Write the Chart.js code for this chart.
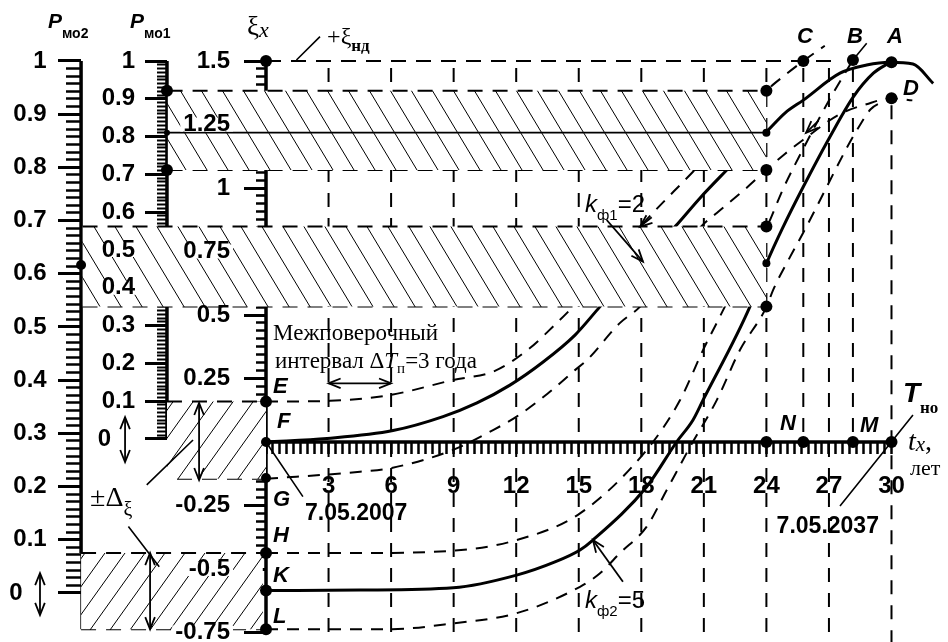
<!DOCTYPE html>
<html lang="ru">
<head>
<meta charset="UTF-8">
<title>Межповерочный интервал</title>
<script src="https://cdn.jsdelivr.net/npm/chart.js"></script>
<style>
  html, body { margin: 0; padding: 0; background: #fff; }
  canvas { display: block; }
</style>
</head>
<body>
<canvas id="chart" width="948" height="642"></canvas>
<script>
// ---- values: x = t_x (years), y = xi ----
const yearLabelValues = [3, 6, 9, 12, 15, 18, 21, 24, 27, 30];
const yearLabels = ['3', '6', '9', '12', '15', '18', '21', '24', '27', '30'];
const gridYears = [3, 6, 9, 12, 15, 18, 21, 24, 27];
const markerYears = [25.77, 28.15];          // C-N and B-M verticals

const pmoValues = [0, 0.1, 0.2, 0.3, 0.4, 0.5, 0.6, 0.7, 0.8, 0.9, 1];
const pmo2Labels = ['0\u2002\u2002', '0.1', '0.2', '0.3', '0.4', '0.5', '0.6', '0.7', '0.8', '0.9', '1'];
const pmo1Labels = ['0\u2002\u2002', '0.1', '0.2', '0.3', '0.4', '0.5', '0.6', '0.7', '0.8', '0.9', '1'];
const xiValues = [-0.75, -0.5, -0.25, 0.25, 0.5, 0.75, 1, 1.25, 1.5];
const xiLabels = ['-0.75', '-0.5', '-0.25', '0.25', '0.5', '0.75', '1', '1.25', '1.5'];

// k_f1 = 2 : solid curve and its +/- dashed bounds
const c1Years = [0, 2.93, 6.09, 8.49, 10.12, 11.70, 13.29, 14.82, 16.02, 17.84, 19.62, 20.82, 22.10, 23.12, 24.01, 24.89, 25.77, 27.53, 28.81, 29.93, 31.03, 32.0];
const c1Xi = [0, 0.014, 0.045, 0.100, 0.154, 0.224, 0.315, 0.421, 0.533, 0.699, 0.848, 0.961, 1.071, 1.157, 1.222, 1.295, 1.346, 1.452, 1.484, 1.495, 1.488, 1.412];
const c1UpYears = [0, 3.07, 5.95, 8.97, 10.98, 12.66, 13.77, 14.72, 16.3, 17.94, 20.48, 22.3, 24.0, 24.9, 25.77, 26.8];
const c1UpXi = [0.159, 0.162, 0.185, 0.244, 0.280, 0.370, 0.455, 0.533, 0.69, 0.848, 1.064, 1.22, 1.383, 1.445, 1.50, 1.56];
const c1LowYears = [0, 4.51, 6.03, 8.97, 10.89, 12.02, 13.5, 14.82, 15.40, 16.98, 17.94, 19.4, 20.86, 21.62, 22.9, 24.0, 24.9, 25.77, 27.5, 28.8, 30.0, 31.0];
const c1LowXi = [-0.145, -0.117, -0.102, -0.031, 0.047, 0.10, 0.19, 0.283, 0.323, 0.469, 0.533, 0.69, 0.848, 0.902, 0.99, 1.071, 1.135, 1.19, 1.29, 1.33, 1.353, 1.345];

// k_f2 = 5
const c2Years = [0, 4.51, 8.98, 12.02, 13.86, 15.06, 15.68, 18.26, 19.70, 20.48, 20.96, 23.21, 24.01, 24.81, 25.77, 27.05, 28.17, 29.13, 29.93];
const c2Xi = [-0.585, -0.583, -0.574, -0.524, -0.472, -0.425, -0.386, -0.176, 0.001, 0.087, 0.165, 0.533, 0.704, 0.848, 1.005, 1.202, 1.359, 1.452, 1.495];
const c2UpYears = [0, 4.51, 8.98, 12.02, 15.06, 18.26, 19.86, 20.96, 21.62, 22.01, 24.01, 24.81, 25.77, 27.05, 28.15];
const c2UpXi = [-0.437, -0.437, -0.428, -0.386, -0.281, -0.031, 0.165, 0.362, 0.469, 0.533, 0.844, 0.998, 1.155, 1.352, 1.504];
const c2LowYears = [0, 5.95, 8.98, 12.02, 15.06, 16.02, 16.98, 18.26, 19.22, 20.34, 21.62, 22.73, 24.01, 24.32, 25.13, 25.76, 26.33, 27.85, 28.49, 29.0, 29.6, 30.0];
const c2LowXi = [-0.737, -0.737, -0.714, -0.674, -0.570, -0.517, -0.437, -0.333, -0.189, -0.019, 0.165, 0.362, 0.533, 0.598, 0.728, 0.823, 0.913, 1.157, 1.248, 1.31, 1.34, 1.353];

// tolerance bands [bottom, centre, top] and their year span
const upperBandXi = [1.071, 1.218, 1.383];
const upperBandYears = [-4.72, 24];
const lowerBandXi = [0.533, 0.697, 0.848];
const lowerBandYears = [-8.8, 24];
const startBand2Xi = [-0.737, -0.585, -0.437];   // H-K-L
const startBand2Years = [-8.87, -0.15];
const startBand1Xi = [-0.145, 0.159];            // G-E
const startBand1Years = [-4.75, -4.27, 0];

// marked points
const dotYears = [0, -4.75, -4.75, -4.75, -8.87, 0, 0, 0, 0, 0, 0, 24, 24, 24, 24, 24, 24, 24, 25.77, 28.15, 30, 30, 25.77, 28.15, 30];
const dotXi = [1.5, 1.383, 1.218, 1.071, 0.697, 0.159, 0, -0.142, -0.437, -0.585, -0.737, 1.383, 1.218, 1.071, 0.848, 0.704, 0.533, 0, 1.5, 1.504, 1.495, 1.353, 0, 0, 0];
const dotRadius = [6, 6, 3, 6, 5, 6, 5, 5, 6, 6, 6, 6, 4, 6, 6, 4, 6, 6, 6, 6, 6, 6, 6, 6, 6];

// leader lines [x1, y1, x2, y2]
const leaders = [
  [1.46, 1.504, 2.59, 1.596],
  [-6.60, -0.333, -5.12, -0.491],
  [0.03, -0.004, 1.77, -0.215],
  [27.53, -0.252, 31.03, 0.106],
  [28.15, 1.504, 28.81, 1.570],
  [-5.72, -0.169, -3.50, 0.008]
];
// arrows [x1, y1, x2, y2, bothEnds]
const arrows = [
  [3, 0.231, 6, 0.231, 1],
  [16.34, 0.874, 18.08, 0.710, 0],
  [17.12, -0.550, 15.68, -0.386, 0],
  [-5.56, -0.437, -5.56, -0.737, 1],
  [-3.21, 0.154, -3.21, -0.150, 1],
  [-6.76, 0.098, -6.76, -0.079, 1],
  [-10.84, -0.516, -10.84, -0.681, 1],
  [18.5, 0.885, 17.94, 0.848, 0],
  [26.5, 1.265, 25.9, 1.217, 0]
];

// ---- layout constants ----
const X_MIN = -12.758, X_MAX = 32.71;
const XI_MIN = -0.7874, XI_MAX = 1.7402;
const P1_MIN = -0.53704, P1_MAX = 1.16138;
const P2_MIN = -0.09211, P2_MAX = 1.11466;
const P2_AXIS = -8.87, P1_AXIS = -4.75, XI_AXIS = 0;
// right edge of each column of tick labels (in years along x)
const P2_LABEL_X = -10.518, P1_LABEL_X = -6.283, XI_LABEL_X = -1.727;
const SANS = '"Liberation Sans", Arial, sans-serif';
const SERIF = '"Liberation Serif", "Times New Roman", serif';

const texts = [
  {x: -10.46, y: 1.630, parts: [['P', 'italic bold 21px ' + SANS], ['мо2', 'bold 14px ' + SANS, 10]]},
  {x: -6.52, y: 1.630, parts: [['P', 'italic bold 21px ' + SANS], ['мо1', 'bold 14px ' + SANS, 10]]},
  {x: -0.91, y: 1.602, parts: [['ξ', '27px ' + SERIF], ['x', 'italic 22px ' + SERIF, 2]]},
  {x: 2.93, y: 1.567, parts: [['+ξ', '24px ' + SERIF], ['нд', 'bold 17px ' + SERIF, 7]]},
  {x: 0.34, y: 0.402, parts: [['Межповерочный', '23px ' + SERIF]]},
  {x: 0.43, y: 0.291, parts: [['интервал Δ', '23px ' + SERIF], ['T', 'italic 23px ' + SERIF], ['п', '15px ' + SERIF, 5], ['=3 года', '23px ' + SERIF]]},
  {x: 0.34, y: 0.193, parts: [['E', 'italic bold 22px ' + SANS]]},
  {x: 0.53, y: 0.055, parts: [['F', 'italic bold 22px ' + SANS]]},
  {x: 0.34, y: -0.252, parts: [['G', 'italic bold 22px ' + SANS]]},
  {x: 0.34, y: -0.394, parts: [['H', 'italic bold 22px ' + SANS]]},
  {x: 0.34, y: -0.551, parts: [['K', 'italic bold 22px ' + SANS]]},
  {x: 0.34, y: -0.713, parts: [['L', 'italic bold 22px ' + SANS]]},
  {x: 1.87, y: -0.307, parts: [['7.05.2007', 'bold 23px ' + SANS]]},
  {x: 24.49, y: -0.358, parts: [['7.05.2037', 'bold 23px ' + SANS]]},
  {x: 24.65, y: 0.047, parts: [['N', 'italic bold 22px ' + SANS]]},
  {x: 28.49, y: 0.039, parts: [['M', 'italic bold 22px ' + SANS]]},
  {x: 25.47, y: 1.571, parts: [['C', 'italic bold 22px ' + SANS]]},
  {x: 27.87, y: 1.571, parts: [['B', 'italic bold 22px ' + SANS]]},
  {x: 29.78, y: 1.571, parts: [['A', 'italic bold 22px ' + SANS]]},
  {x: 30.55, y: 1.366, parts: [['D', 'italic bold 22px ' + SANS]]},
  {x: 30.55, y: 0.157, parts: [['T', 'italic bold 28px ' + SANS], ['но', 'bold 17px ' + SERIF, 11]]},
  {x: 30.79, y: -0.031, parts: [['t', 'italic 28px ' + SERIF], ['x', 'italic 21px ' + SERIF, 1], [',', '28px ' + SERIF]]},
  {x: 30.89, y: -0.130, parts: [['лет', '22px ' + SERIF]]},
  {x: 15.30, y: 0.906, parts: [['k', 'italic 24px ' + SANS], ['ф1', '15px ' + SANS, 8], ['=2', '24px ' + SANS]]},
  {x: 15.30, y: -0.654, parts: [['k', 'italic 24px ' + SANS], ['ф2', '15px ' + SANS, 8], ['=5', '24px ' + SANS]]},
  {x: -8.44, y: -0.252, parts: [['±Δ', '28px ' + SERIF], ['ξ', '20px ' + SERIF, 10]]}
];

function range(a, b, step) {
  const out = [];
  const n = Math.round((b - a) / step);
  for (let i = 0; i <= n; i++) out.push(+(a + i * step).toFixed(6));
  return out;
}
function pts(xs, ys) { return xs.map((x, i) => ({x: x, y: ys[i]})); }
function segs(list) {
  const out = [];
  list.forEach(s => { out.push({x: s[0], y: s[1]}, {x: s[2], y: s[3]}, {x: s[2], y: null}); });
  return out;
}

function makeHatch(w, h, back) {
  const c = document.createElement('canvas');
  c.width = w; c.height = h;
  const g = c.getContext('2d');
  g.fillStyle = '#fff';
  g.fillRect(0, 0, w, h);
  g.strokeStyle = '#000';
  g.lineWidth = 1;
  [-w, 0, w].forEach(dx => {
    g.beginPath();
    if (back) { g.moveTo(dx, 0); g.lineTo(dx + w, h); }
    else { g.moveTo(dx, h); g.lineTo(dx + w, 0); }
    g.stroke();
  });
  return g.createPattern(c, 'repeat');
}
const hatchBack = makeHatch(21, 35, true);
const hatchFwd = makeHatch(20, 28, false);

function line(data, opts) {
  return Object.assign({
    type: 'line', data: data, borderColor: '#000', borderWidth: 2, pointRadius: 0,
    fill: false, tension: 0, spanGaps: false, xAxisID: 'x', yAxisID: 'y', borderCapStyle: 'butt'
  }, opts);
}

function tickAxis(posX, min, max, values, len, width) {
  return {
    type: 'linear', axis: 'y', min: min, max: max, bounds: 'data',
    position: {x: posX},
    afterBuildTicks: s => { s.ticks = values.map(v => ({value: v})); },
    grid: {drawOnChartArea: false, drawTicks: true, tickLength: len, tickWidth: width, tickColor: '#000'},
    border: {display: false},
    ticks: {display: false}
  };
}
// labels only; the axis sits at the right edge of the label column
function labelAxis(posX, min, max, values, labels) {
  return {
    type: 'linear', axis: 'y', min: min, max: max, bounds: 'data',
    position: {x: posX},
    afterBuildTicks: s => {
      s.ticks = [{value: min}].concat(values.map(v => ({value: v})), [{value: max}]);
    },
    grid: {display: false, drawTicks: false},
    border: {display: false},
    ticks: {
      z: 1, padding: 0, autoSkip: false, color: '#000',
      font: {family: SANS, size: 24, weight: 'bold', lineHeight: 1},
      callback: (v, i) => (i === 0 || i > values.length) ? [] : labels[i - 1],
      showLabelBackdrop: c => !!(c.tick && typeof c.tick.label === 'string'),
      backdropColor: '#fff',
      backdropPadding: {top: -5, bottom: -5, left: 3, right: 3}
    }
  };
}

const verticals = gridYears.map(t => [t, 1.5, t, XI_MIN])
  .concat(markerYears.map(t => [t, 1.5, t, 0]))
  .concat([[30, 1.353, 30, XI_MIN]]);

const datasets = [
  line(segs(verticals), {borderDash: [14, 11], borderDashOffset: 18, order: 20}),
  line(pts(c1Years, c1Xi), {borderWidth: 3, cubicInterpolationMode: 'monotone', order: 15}),
  line(pts(c1UpYears, c1UpXi), {borderDash: [12, 9], cubicInterpolationMode: 'monotone', order: 15}),
  line(pts(c1LowYears, c1LowXi), {borderDash: [12, 9], cubicInterpolationMode: 'monotone', order: 15}),
  line(pts(c2Years, c2Xi), {borderWidth: 3, cubicInterpolationMode: 'monotone', order: 15}),
  line(pts(c2UpYears, c2UpXi), {borderDash: [12, 9], cubicInterpolationMode: 'monotone', order: 15}),
  line(pts(c2LowYears, c2LowXi), {borderDash: [12, 9], cubicInterpolationMode: 'monotone', order: 15}),
  // axis lines
  line([{x: P2_AXIS, y: 1}, {x: P2_AXIS, y: 0.075}], {yAxisID: 'p2Major', borderWidth: 3.5, order: 12}),
  line([{x: P1_AXIS, y: 1}, {x: P1_AXIS, y: 0}], {yAxisID: 'p1Major', borderWidth: 3.5, order: 12}),
  line([{x: XI_AXIS, y: 1.5}, {x: XI_AXIS, y: -0.737}], {borderWidth: 3.5, order: 12}),
  line([{x: 0, y: 0}, {x: 30, y: 0}], {borderWidth: 3.5, order: 12}),
  // tolerance bands
  line([{x: upperBandYears[0], y: upperBandXi[2]}, {x: upperBandYears[1], y: upperBandXi[2]}],
    {fill: {value: upperBandXi[0]}, backgroundColor: hatchBack, borderDash: [15, 10], order: 10}),
  line([{x: upperBandYears[0], y: upperBandXi[0]}, {x: upperBandYears[1], y: upperBandXi[0]}], {borderDash: [15, 10], order: 10}),
  line([{x: upperBandYears[0], y: upperBandXi[1]}, {x: upperBandYears[1], y: upperBandXi[1]}], {borderWidth: 1.6, order: 9}),
  line([{x: lowerBandYears[0], y: lowerBandXi[2]}, {x: lowerBandYears[1], y: lowerBandXi[2]}],
    {fill: {value: lowerBandXi[0]}, backgroundColor: hatchBack, borderDash: [15, 10], order: 10}),
  line([{x: lowerBandYears[0], y: lowerBandXi[0]}, {x: lowerBandYears[1], y: lowerBandXi[0]}], {borderDash: [15, 10], order: 10}),
  line([{x: startBand2Years[0], y: startBand2Xi[2]}, {x: startBand2Years[1], y: startBand2Xi[2]}],
    {fill: {value: startBand2Xi[0]}, backgroundColor: hatchFwd, borderDash: [15, 10], order: 10}),
  line([{x: startBand2Years[0], y: startBand2Xi[1]}, {x: startBand2Years[1], y: startBand2Xi[1]}], {borderDash: [15, 10], order: 10}),
  line([{x: startBand2Years[0], y: startBand2Xi[0]}, {x: startBand2Years[1], y: startBand2Xi[0]}], {borderDash: [15, 10], order: 10}),
  line([{x: startBand2Years[0], y: startBand2Xi[2]}, {x: startBand2Years[0], y: startBand2Xi[0]}], {borderWidth: 1.5, order: 10}),
  line([{x: startBand1Years[0], y: startBand1Xi[1]}, {x: startBand1Years[2], y: startBand1Xi[1]}],
    {fill: {value: startBand1Xi[0]}, backgroundColor: hatchFwd, borderDash: [15, 10], order: 10}),
  line([{x: startBand1Years[1], y: startBand1Xi[0]}, {x: startBand1Years[2], y: startBand1Xi[0]}], {borderDash: [15, 10], order: 10}),
  // xi_nd level and leaders
  line([{x: 0, y: 1.5}, {x: 27.1, y: 1.5}], {borderDash: [15, 10], borderWidth: 2.2, order: 8}),
  line(segs(leaders), {borderWidth: 1.6, order: 8}),
  // points
  line(pts(dotYears, dotXi), {showLine: false, pointRadius: dotRadius, pointBackgroundColor: '#000', pointBorderWidth: 0, order: 1})
];

function head(ctx, x1, y1, x2, y2, size) {
  const a = Math.atan2(y2 - y1, x2 - x1);
  ctx.beginPath();
  ctx.moveTo(x2 - size * Math.cos(a - 0.38), y2 - size * Math.sin(a - 0.38));
  ctx.lineTo(x2, y2);
  ctx.lineTo(x2 - size * Math.cos(a + 0.38), y2 - size * Math.sin(a + 0.38));
  ctx.stroke();
}

const extras = {
  id: 'extras',
  afterDraw(chart) {
    const ctx = chart.ctx, sx = chart.scales.x, sy = chart.scales.y;
    ctx.save();
    ctx.strokeStyle = '#000';
    ctx.lineWidth = 1.8;
    arrows.forEach(a => {
      const x1 = sx.getPixelForValue(a[0]), y1 = sy.getPixelForValue(a[1]);
      const x2 = sx.getPixelForValue(a[2]), y2 = sy.getPixelForValue(a[3]);
      ctx.beginPath(); ctx.moveTo(x1, y1); ctx.lineTo(x2, y2); ctx.stroke();
      head(ctx, x1, y1, x2, y2, 13);
      if (a[4]) head(ctx, x2, y2, x1, y1, 13);
    });
    ctx.fillStyle = '#000';
    ctx.textBaseline = 'alphabetic';
    ctx.textAlign = 'left';
    texts.forEach(t => {
      let px = sx.getPixelForValue(t.x);
      const py = sy.getPixelForValue(t.y);
      t.parts.forEach(p => {
        ctx.font = p[1];
        ctx.fillText(p[0], px, py + (p[2] || 0));
        px += ctx.measureText(p[0]).width;
      });
    });
    ctx.restore();
  }
};

new Chart(document.getElementById('chart'), {
  type: 'line',
  data: {datasets: datasets},
  options: {
    responsive: false,
    animation: false,
    events: [],
    layout: {padding: 0, autoPadding: false},
    plugins: {legend: {display: false}, tooltip: {enabled: false}},
    scales: {
      x: {
        type: 'linear', min: X_MIN, max: X_MAX, bounds: 'data',
        position: {y: 0},
        afterBuildTicks: s => { s.ticks = range(0, 30, 1 / 3).map(v => ({value: v})); },
        grid: {drawOnChartArea: false, drawTicks: true, tickLength: 12, tickWidth: 2.5, tickColor: '#000'},
        border: {display: false},
        ticks: {
          z: 1, padding: 18, autoSkip: false, maxRotation: 0, minRotation: 0, color: '#000',
          font: {family: SANS, size: 24, weight: 'bold'},
          callback: v => {
            const k = yearLabelValues.findIndex(t => Math.abs(t - v) < 1e-4);
            return k < 0 ? '' : yearLabels[k];
          }
        }
      },
      y: {type: 'linear', display: false, min: XI_MIN, max: XI_MAX, bounds: 'data'},
      p2Minor: tickAxis(P2_AXIS, P2_MIN, P2_MAX, range(0, 1, 1 / 70), 15, 2.5),
      p2Major: tickAxis(P2_AXIS, P2_MIN, P2_MAX, pmoValues, 23, 3),
      p2Lab: labelAxis(P2_LABEL_X, P2_MIN, P2_MAX, pmoValues, pmo2Labels),
      p1Minor: tickAxis(P1_AXIS, P1_MIN, P1_MAX, range(0, 1, 0.01), 10, 2),
      p1Major: tickAxis(P1_AXIS, P1_MIN, P1_MAX, pmoValues, 22, 3),
      p1Lab: labelAxis(P1_LABEL_X, P1_MIN, P1_MAX, pmoValues, pmo1Labels),
      xiMinor: tickAxis(XI_AXIS, XI_MIN, XI_MAX, range(-0.4375, 1.5, 1 / 32), 10, 2.5),
      xiMajor: tickAxis(XI_AXIS, XI_MIN, XI_MAX, xiValues, 22, 3),
      xiLab: labelAxis(XI_LABEL_X, XI_MIN, XI_MAX, xiValues, xiLabels)
    }
  },
  plugins: [extras]
});
</script>
</body>
</html>
